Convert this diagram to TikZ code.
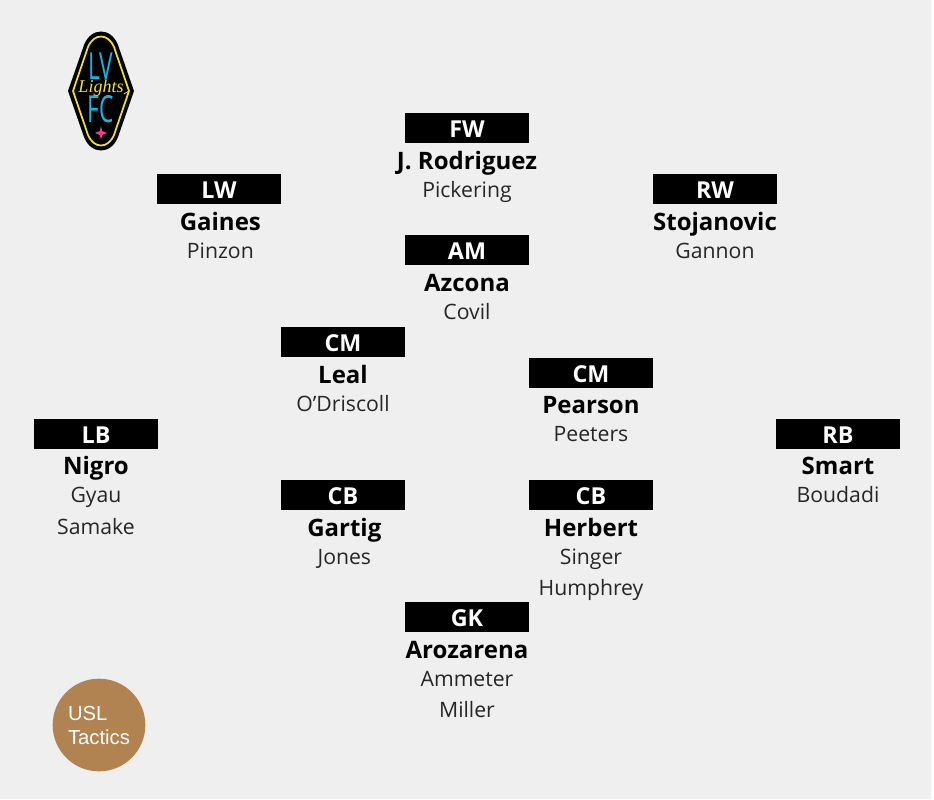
\documentclass[tikz,border=0pt]{standalone}
\usepackage{fontspec}
\setmainfont{Open Sans}
\newfontfamily\badgefont{Liberation Sans}
\newfontfamily\crestscript{Liberation Serif}
\usetikzlibrary{positioning, calc}
\definecolor{pitchbg}{HTML}{EFEFEF}
\definecolor{tacticsbrown}{HTML}{B08350}
\definecolor{lightsyellow}{HTML}{F5E02E}
\definecolor{lightsblue}{HTML}{18B4E4}
\definecolor{lightspink}{HTML}{EC3E8E}

\begin{document}
\begin{tikzpicture}[
  x=0.75pt, y=-0.75pt,
  posbox/.style={
    rectangle, fill=black, text=white,
    minimum width=92.5pt, minimum height=23pt,
    inner sep=0pt, font=\fontsize{17.5}{17.5}\selectfont\bfseries,
    text height=14.5pt, text depth=0pt,
  },
  starter/.style={font=\fontsize{18}{18}\selectfont\bfseries, inner sep=0pt, text height=11.5pt, text depth=3.5pt},
  backup/.style={font=\fontsize{15.9}{15.9}\selectfont, text=black!85, inner sep=0pt, text height=11pt, text depth=3pt},
  crestletter/.style={font=\fontsize{28}{28}\selectfont, text=lightsblue, inner sep=0pt, text height=20pt, text depth=0pt, xscale=0.61, transform shape},
  thirdgap/.style={below=9.5pt of #1},
  node distance=6pt and 0pt,
]
\useasboundingbox (0,0) rectangle (934,799);
\fill[pitchbg] (0,0) rectangle (931,799);

% logo
\fill[black] (68,91) -- (84,45) .. controls (91,27) and (111,27) .. (118,45) -- (134,91)
  -- (118,137) .. controls (111,155) and (91,155) .. (84,137) -- cycle;
\draw[lightsyellow, line width=1.3pt] (73,91) -- (88,47) .. controls (94,33) and (108,33) .. (114,47) -- (129,91)
  -- (114,135) .. controls (108,149) and (94,149) .. (88,135) -- cycle;
\node[crestletter] (lv) at (101,66.5) {LV};
\node[crestletter] (fc) at (101,109.5) {FC};
\node[font=\crestscript\fontsize{13.5}{13.5}\selectfont\itshape, text=lightsyellow, inner sep=0pt, text height=8pt, text depth=0.5pt] (lights) at (101,88) {Lights};
\coordinate (lighttail) at (129,91);
\draw[lightsyellow, line width=0.6pt] (lights.south east) -- (lighttail);
\fill[lightspink] (101,126) -- (102.2,131) -- (107,133) -- (102.2,135) -- (101,140) -- (99.8,135) -- (95,133) -- (99.8,131) -- cycle;

% badge
\node[circle, fill=tacticsbrown, minimum size=69.5pt, inner sep=0pt] (badge) at (99,725) {};
\node[text=white, font=\badgefont\fontsize{15.2}{18}\selectfont, align=left, inner sep=0pt] (badgetext) at (99,725.5) {USL\\Tactics};

% forwards
\node[posbox] (fw) at (467,128) {FW};
\node[starter, below=7.5pt of fw] (fwstart) {J. Rodriguez};
\node[backup, below=6pt of fwstart] (fwback) {Pickering};

\node[posbox] (lw) at (219,189) {LW};
\node[starter, below=7.5pt of lw, xshift=1pt] (lwstart) {Gaines};
\node[backup, below=6pt of lwstart] (lwback) {Pinzon};

\node[posbox] (rw) at (715,189) {RW};
\node[starter, below=7.5pt of rw] (rwstart) {Stojanovic};
\node[backup, below=6pt of rwstart] (rwback) {Gannon};

% midfield
\node[posbox] (am) at (467,250) {AM};
\node[starter, below=7.5pt of am] (amstart) {Azcona};
\node[backup, below=6pt of amstart] (amback) {Covil};

\node[posbox] (cml) at (343,342) {CM};
\node[starter, below=8pt of cml] (cmlstart) {Leal};
\node[backup, below=6pt of cmlstart] (cmlback) {O'Driscoll};

\node[posbox] (cmr) at (591,373) {CM};
\node[starter, below=7pt of cmr] (cmrstart) {Pearson};
\node[backup, below=6pt of cmrstart] (cmrback) {Peeters};

% defence
\node[posbox] (lb) at (96,434) {LB};
\node[starter, below=7pt of lb] (lbstart) {Nigro};
\node[backup, below=6pt of lbstart] (lbback) {Gyau};
\node[backup, thirdgap=lbback] (lbthird) {Samake};

\node[posbox] (rb) at (838,434) {RB};
\node[starter, below=7pt of rb] (rbstart) {Smart};
\node[backup, below=6pt of rbstart] (rbback) {Boudadi};

\node[posbox] (cbl) at (343,495) {CB};
\node[starter, below=7.5pt of cbl, xshift=1pt] (cblstart) {Gartig};
\node[backup, below=6pt of cblstart] (cblback) {Jones};

\node[posbox] (cbr) at (591,495) {CB};
\node[starter, below=7.5pt of cbr] (cbrstart) {Herbert};
\node[backup, below=6pt of cbrstart] (cbrback) {Singer};
\node[backup, thirdgap=cbrback] (cbrthird) {Humphrey};

% keeper
\node[posbox] (gk) at (467,617) {GK};
\node[starter, below=7.5pt of gk] (gkstart) {Arozarena};
\node[backup, below=6pt of gkstart] (gkback) {Ammeter};
\node[backup, thirdgap=gkback] (gkthird) {Miller};
\end{tikzpicture}
\end{document}
